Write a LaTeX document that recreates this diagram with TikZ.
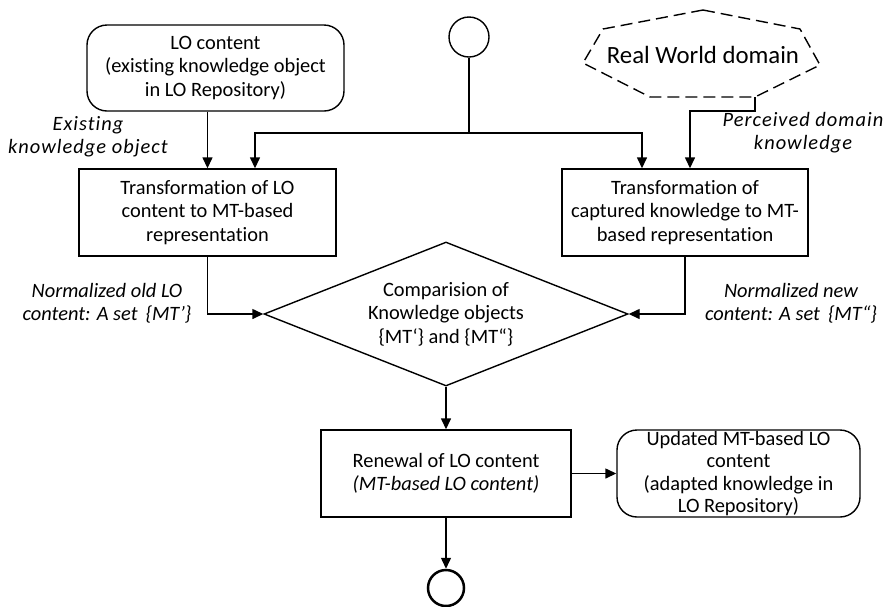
\documentclass[tikz,border=0pt]{standalone}
\usepackage{fontspec}
\setmainfont{Carlito}[Ligatures=NoCommon]
\usetikzlibrary{shapes.geometric,arrows.meta}
\begin{document}
\begin{tikzpicture}[x=1pt, y=-1pt,
    font=\fontsize{20.4}{23.5}\selectfont,
    line width=1.4pt,
    procbox/.style={draw, rectangle, align=center, inner sep=0pt},
    roundbox/.style={draw, rectangle, rounded corners=20pt, align=center, inner sep=0pt},
    endpoint/.style={draw, circle, inner sep=0pt},
    lbl/.style={align=center, font=\fontsize{20.4}{23}\selectfont\itshape},
    widelbl/.style={lbl, font=\fontsize{20.4}{23}\selectfont\itshape\addfontfeatures{LetterSpace=5}},
    flow/.style={-{Triangle[length=11pt,width=10pt]}}]
  \useasboundingbox (0,0) rectangle (884,606);
  \node[endpoint, minimum size=40pt] (start) at (469,37) {};
  \node[roundbox, minimum width=257pt, minimum height=86pt] (locontent) at (215.5,68)
    {LO content\\(existing knowledge object\\in LO Repository)};
  \node[font=\fontsize{24.8}{28}\selectfont] (rwd) at (703,55) {Real World domain};
  \draw[dash pattern=on 12pt off 6pt, line join=round] (703,10) -- (800,29) -- (820,65)
    -- (755,97) coordinate (rwdout) -- (650,97) -- (583,63) -- (603,29) -- cycle;
  \node[procbox, minimum width=257pt, minimum height=87pt] (transl) at (207.5,212.5)
    {Transformation of LO\\content to MT-based\\representation};
  \node[procbox, minimum width=246pt, minimum height=87pt] (transr) at (685,212.5)
    {Transformation of\\captured knowledge to MT-\\based representation};
  \node[draw, diamond, aspect=2.53, minimum width=364pt, minimum height=144pt, inner sep=0pt,
    align=center] (comp) at (446,314)
    {Comparision of\\Knowledge objects\\\{MT‘\} and \{MT“\}};
  \node[procbox, minimum width=250pt, minimum height=87pt] (renewal) at (446,473.5)
    {Renewal of LO content\\\textit{(MT-based LO content)}};
  \node[roundbox, minimum width=243pt, minimum height=87pt,
    font=\fontsize{20.4}{22.4}\selectfont] (updated) at (738.5,473.5)
    {Updated MT-based LO\\content\\(adapted knowledge in\\LO Repository)};
  \node[endpoint, minimum size=36pt, line width=2.5pt] (stop) at (446,588) {};
  \coordinate (fork) at (469,133);
  \draw[line width=2.5pt] (254,256) -- (327,256);
  \draw[flow] (transl.north |- locontent.south) -- (transl.north);
  \draw (start) -- (fork);
  \draw[flow] (fork) -| ([xshift=47.5pt]transl.north);
  \draw[flow] (fork) -| ([xshift=-43pt]transr.north);
  \draw[flow] (rwdout) -- ++(0,14) -| ([xshift=5pt]transr.north);
  \draw[flow] (transl.south) |- (comp.west);
  \draw[flow] (transr.south) |- (comp.east);
  \draw[flow] (comp.south) -- (renewal.north);
  \draw[flow] (renewal.east) -- (updated.west);
  \draw[flow] (renewal.south) -- (stop.north);
  \node[widelbl] (lblexist) at (88,137) {Existing\\knowledge object};
  \node[widelbl] (lblperc) at (803,133) {Perceived domain\\knowledge};
  \node[lbl] (lblold) at (107,303) {Normalized old LO\\content: A set\, \{MT’\}};
  \node[lbl] (lblnew) at (791,303) {Normalized new\\content: A set\, \{MT“\}};
\end{tikzpicture}
\end{document}
